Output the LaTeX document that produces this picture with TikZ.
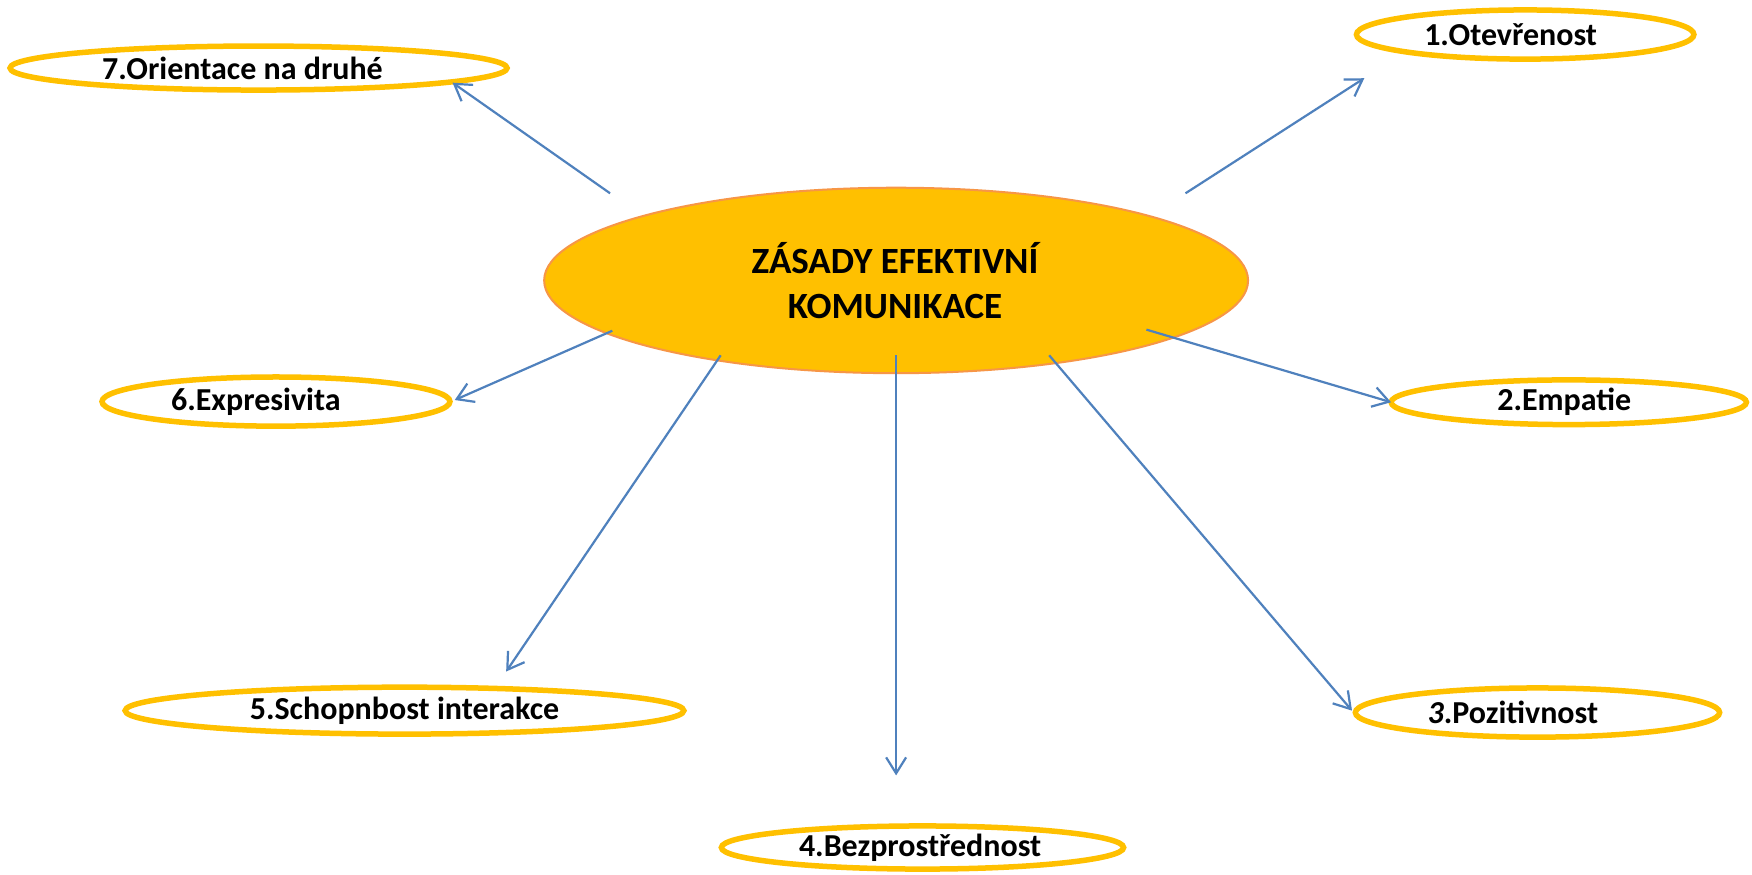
\documentclass[tikz,border=0pt]{standalone}
\usepackage{fontspec}
\setmainfont{Carlito}
\usetikzlibrary{shapes.geometric,arrows.meta}
\definecolor{gold}{HTML}{FFC000}
\definecolor{orangeline}{HTML}{F79646}
\definecolor{arrowblue}{HTML}{4F81BD}
\tikzset{
  leaf/.style={draw=gold,line width=5.5pt,fill=white},
  lbl/.style={font=\fontsize{32}{38}\selectfont\bfseries},
  conn/.style={draw=arrowblue,line width=2.2pt,-{Straight Barb[length=16pt,width=20pt,line width=2.2pt]}}
}
\begin{document}
\begin{tikzpicture}[x=1.1173pt,y=-1.1173pt]
\useasboundingbox[fill=white] (0,0) rectangle (1568,783.1);
% center
\draw[fill=gold,draw=orangeline,line width=2pt] (802,251) ellipse [x radius=315,y radius=83];
\node[align=center,font=\fontsize{37}{45}\selectfont\bfseries] (center) at (801,251) {ZÁSADY EFEKTIVNÍ\\KOMUNIKACE};
% leaves
\draw[leaf] (231.4,60.9) ellipse [x radius=222.4,y radius=19.7];
\node[lbl] (n7) at (217,61) {7.Orientace na druhé};
\draw[leaf] (1365,30.9) ellipse [x radius=151,y radius=22];
\node[lbl] (n1) at (1352,31) {1.Otevřenost};
\draw[leaf] (247,359.4) ellipse [x radius=155.7,y radius=22];
\node[lbl] (n6) at (229,359.4) {6.Expresivita};
\draw[leaf] (1404,360) ellipse [x radius=159,y radius=20];
\node[lbl] (n2) at (1400,360) {2.Empatie};
\draw[leaf] (362,636) ellipse [x radius=250,y radius=21];
\node[lbl] (n5) at (362,636) {5.Schopnbost interakce};
\draw[leaf] (1376,637.7) ellipse [x radius=163,y radius=22];
\node[lbl] (n3) at (1354,637.7) {{\itshape 3}.Pozitivnost};
\draw[leaf] (825.6,758.5) ellipse [x radius=180,y radius=19.3];
\node[lbl] (n4) at (823.5,758.5) {4.Bezprostřednost};
% connector end points
\coordinate (s7) at (546,173); \coordinate (e7) at (405,74);
\coordinate (s1) at (1061,173); \coordinate (e1) at (1221,70);
\coordinate (s6) at (548,296); \coordinate (e6) at (407,358);
\coordinate (s2) at (1026,295); \coordinate (e2) at (1245,360);
\coordinate (s5) at (645,318); \coordinate (e5) at (453,601);
\coordinate (s4) at (802,318); \coordinate (e4) at (802,694);
\coordinate (s3) at (939,318); \coordinate (e3) at (1210,636);
\draw[conn] (s7) -- (e7);
\draw[conn] (s1) -- (e1);
\draw[conn] (s6) -- (e6);
\draw[conn] (s2) -- (e2);
\draw[conn] (s5) -- (e5);
\draw[conn] (s4) -- (e4);
\draw[conn] (s3) -- (e3);
\end{tikzpicture}
\end{document}
